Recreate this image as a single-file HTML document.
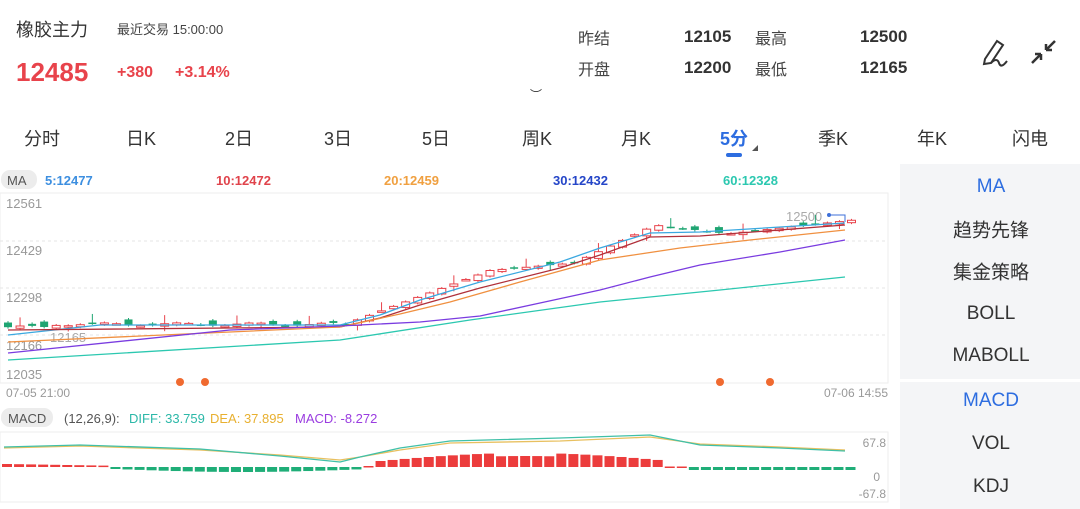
<!DOCTYPE html><html><head><meta charset="utf-8"><style>
body{margin:0;width:1080px;height:509px;background:#fff;font-family:"Liberation Sans","Noto Sans CJK SC",sans-serif;position:relative;overflow:hidden;color:#333}
.a{position:absolute;white-space:nowrap}
.tab{position:absolute;top:125px;font-size:18px;color:#333;transform:translateX(-50%)}
.rp{position:absolute;left:902px;width:178px;text-align:center;font-size:19px;color:#333;transform:translateY(-50%)}
</style></head><body>
<div class="a" style="left:16px;top:16px;font-size:18px">橡胶主力</div>
<div class="a" style="left:117px;top:19px;font-size:13px;color:#444">最近交易 15:00:00</div>
<div class="a" style="left:16px;top:57px;font-size:26px;font-weight:bold;color:#e8434b">12485</div>
<div class="a" style="left:117px;top:64px;font-size:16px;font-weight:bold;color:#e8434b">+380</div>
<div class="a" style="left:175px;top:64px;font-size:16px;font-weight:bold;color:#e8434b">+3.14%</div>
<div class="a" style="left:578px;top:25px;font-size:16px;color:#444">昨结</div>
<div class="a" style="left:578px;top:56px;font-size:16px;color:#444">开盘</div>
<div class="a" style="left:684px;top:27px;font-size:17px;font-weight:bold">12105</div>
<div class="a" style="left:684px;top:58px;font-size:17px;font-weight:bold">12200</div>
<div class="a" style="left:755px;top:25px;font-size:16px;color:#444">最高</div>
<div class="a" style="left:755px;top:56px;font-size:16px;color:#444">最低</div>
<div class="a" style="left:860px;top:27px;font-size:17px;font-weight:bold">12500</div>
<div class="a" style="left:860px;top:58px;font-size:17px;font-weight:bold">12165</div>
<svg class="a" style="left:975px;top:33px" width="90" height="40" viewBox="0 0 90 40">
<path d="M10 26 L22 8 L28 12 L16 30 L9 31 Z" fill="none" stroke="#333" stroke-width="2"/>
<path d="M16 30 Q22 24 24 30 T32 28" fill="none" stroke="#333" stroke-width="2"/>
<path d="M57 30 L66 21 M66 21 V27 M66 21 H60 M80 8 L71 17 M71 17 V11 M71 17 H77" stroke="#333" stroke-width="2.5" fill="none"/>
</svg>
<div class="a" style="left:530px;top:86px;font-size:12px;color:#333">︶</div>
<div class="tab" style="left:42px">分时</div><div class="tab" style="left:141px">日K</div><div class="tab" style="left:239px">2日</div><div class="tab" style="left:338px">3日</div><div class="tab" style="left:436px">5日</div><div class="tab" style="left:537px">周K</div><div class="tab" style="left:636px">月K</div>
<div class="tab" style="left:734px;color:#2d6de0;font-weight:bold">5分</div>
<div class="a" style="left:752px;top:145px;width:0;height:0;border-left:6px solid transparent;border-bottom:6px solid #555"></div>
<div class="a" style="left:726px;top:153px;width:16px;height:4px;border-radius:2px;background:#2d6de0"></div>
<div class="tab" style="left:833px">季K</div><div class="tab" style="left:932px">年K</div><div class="tab" style="left:1030px">闪电</div>
<div class="a" style="left:900px;top:164px;width:180px;height:345px;background:#f4f5f7"></div>
<div class="a" style="left:900px;top:379px;width:180px;height:3px;background:#fff"></div>
<div class="rp" style="top:187px;color:#2d6de0">MA</div>
<div class="rp" style="top:229px">趋势先锋</div>
<div class="rp" style="top:271px">集金策略</div>
<div class="rp" style="top:314px">BOLL</div>
<div class="rp" style="top:356px">MABOLL</div>
<div class="rp" style="top:401px;color:#2d6de0">MACD</div>
<div class="rp" style="top:444px">VOL</div>
<div class="rp" style="top:487px">KDJ</div>
<svg class="a" style="left:0;top:0" width="900" height="509" id="s"></svg>
<script>
const s=document.getElementById('s');let h='';
const T=(x,y,t,c,sz,w,a)=>h+=`<text x="${x}" y="${y}" fill="${c}" font-size="${sz}" font-weight="${w||'normal'}" text-anchor="${a||'start'}" font-family="Liberation Sans,Noto Sans CJK SC,sans-serif">${t}</text>`;
h+='<rect x="1" y="170" width="36" height="19" rx="9" fill="#ececec"/>';
T(7,185,'MA','#555',13);
T(45,185,'5:12477','#3d8fe0',13,'bold');T(216,185,'10:12472','#e0434b',13,'bold');T(384,185,'20:12459','#f0a040',13,'bold');T(553,185,'30:12432','#2546c8',13,'bold');T(723,185,'60:12328','#2cc8b0',13,'bold');
h+='<rect x="0" y="193" width="888" height="190" fill="none" stroke="#eee"/>';
[241,288,335].forEach(y=>h+=`<line x1="0" x2="888" y1="${y}" y2="${y}" stroke="#e6e6e6" stroke-dasharray="3,3"/>`);
T(6,208,'12561','#999',13);T(6,255,'12429','#999',13);T(6,302,'12298','#999',13);T(6,350,'12166','#999',13);T(6,379,'12035','#999',13);
T(6,397,'07-05 21:00','#999',12);T(888,397,'07-06 14:55','#999',12,'normal','end');
T(50,342,'12165','#aaa',13);T(786,221,'12500','#aaa',13);
h+='<polyline points="829,215 845,215 845,222" fill="none" stroke="#3d6fd8"/><circle cx="829" cy="215" r="2" fill="#3d6fd8"/>';
const P=p=>193+(12561-p)*0.3588;
function base(i){if(i<28)return 12195+(i<4?-8:0)+Math.sin(i)*4;if(i<40)return 12195+(i-28)/12*150;if(i<47)return 12345+(i-40)*3;if(i<54)return 12366+(i-47)/7*110;if(i<60)return 12470-(i-54)*4;return 12448+(i-60)/10*37;}
let c=[];for(let i=0;i<71;i++)c.push(base(i));
for(let i=0;i<71;i++){const x=8+i*12.05,cl=c[i],op=i>0?c[i-1]+(i%7==3?12:(i%5==2?6:-3)):12200;const up=cl>=op;const col=up?'#e8434b':'#1fa572';
const hi=Math.max(op,cl)+4+(i%6==1?20:0),lo=Math.min(op,cl)-4-(i%8==5?10:0);
h+=`<line x1="${x}" x2="${x}" y1="${P(hi)}" y2="${P(lo)}" stroke="${col}"/>`;
const y1=P(Math.max(op,cl)),bh=Math.max(1.5,Math.abs(P(op)-P(cl)));
h+=up?`<rect x="${x-4}" y="${y1}" width="8" height="${bh}" fill="#fff" stroke="${col}"/>`:`<rect x="${x-4}" y="${y1}" width="8" height="${bh}" fill="${col}"/>`;}
const L=(pts,col)=>h+=`<polyline points="${pts}" fill="none" stroke="${col}" stroke-width="1.3" stroke-linejoin="round"/>`;
L('8,335 100,325 340,325 380,315 420,300 480,282 560,262 600,248 650,233 700,232 845,223','#3aa8e0');
L('8,330 340,327 380,318 420,305 480,288 560,268 600,255 650,237 700,236 845,225','#b0303a');
L('8,342 340,327 400,314 450,302 520,282 600,260 680,248 750,240 845,230','#f09040');
L('8,353 230,330 340,326 420,322 480,316 540,303 600,290 650,277 700,265 780,252 845,240','#7a3ce0');
L('8,360 340,340 470,320 600,302 720,290 845,277','#2cc8b0');
[180,205,720,770].forEach(x=>h+=`<circle cx="${x}" cy="382" r="4" fill="#f06a30"/>`);
h+='<rect x="1" y="408" width="52" height="19" rx="9" fill="#ececec"/>';
T(8,423,'MACD','#555',13);T(64,423,'(12,26,9):','#555',13);T(129,423,'DIFF: 33.759','#2cb8a8',13);T(210,423,'DEA: 37.895','#e8b030',13);T(295,423,'MACD: -8.272','#9a3ce0',13);
h+='<rect x="0" y="432" width="888" height="70" fill="none" stroke="#eee"/>';
T(886,447,'67.8','#999',12,'normal','end');T(880,481,'0','#999',12,'normal','end');T(886,498,'-67.8','#999',12,'normal','end');
for(let i=0;i<71;i++){const x=2+i*12.05;let v;
if(i<9)v=3-i*0.2;else if(i<30)v=-2-Math.sin((i-9)/21*3.14)*3;else if(i<31)v=1;else if(i<55)v=6+Math.sin((i-31)/24*3.14)*8-(i>40&&i<46?3:0);else if(i<57)v=0.5;else v=-3;
const col=v>=0?'#ec3c3c':'#1fae78';h+=`<rect x="${x}" y="${v>=0?467-v:467}" width="10" height="${Math.max(1.5,Math.abs(v))}" fill="${col}"/>`;}
L('4,448 80,446 200,450 280,455 340,460 360,457 400,450 450,443 560,441 650,437 700,444 780,447 845,450','#e8c060');
L('4,447 80,445 200,449 280,456 340,462 360,457 400,448 450,441 560,438 650,435 700,445 780,448 845,451','#40c0a8');
s.innerHTML=h;
</script>
</body></html>
